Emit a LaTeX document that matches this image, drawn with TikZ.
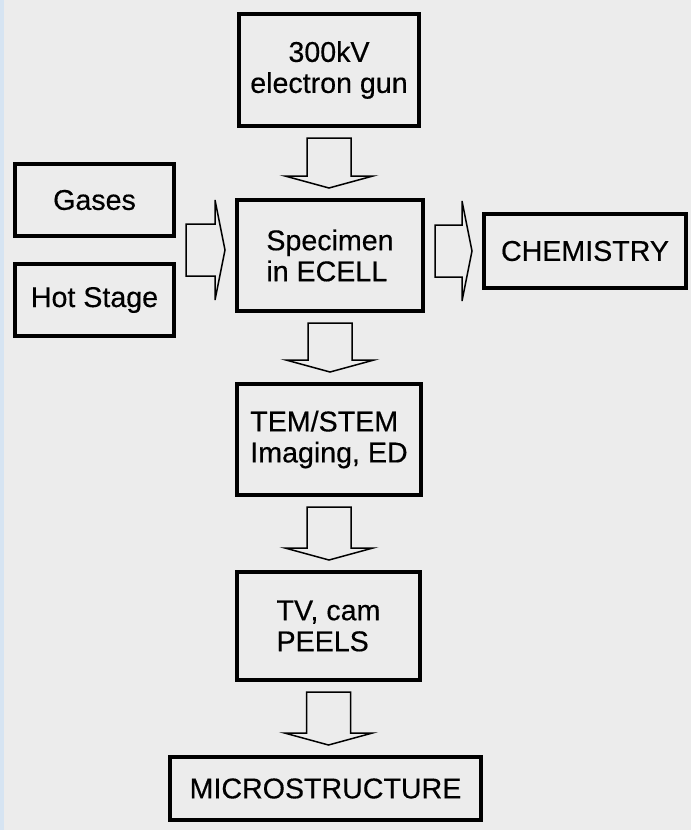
\documentclass[tikz,border=0pt]{standalone}
\usepackage{fontspec}
\setmainfont{Liberation Sans}
\newfontfamily\scanfont{Liberation Sans}[UprightFeatures={FakeBold=0.4}]
\usetikzlibrary{calc}

\definecolor{paper}{RGB}{236,236,236}
\definecolor{edge}{RGB}{214,228,242}

\tikzset{
  box/.style={draw, line width=2pt, inner sep=0pt, font=\scanfont\fontsize{14.3}{15.5}\selectfont},
  blockarrow/.style={draw, line width=0.75pt, line join=miter},
}

% hollow block arrows: #1 = tail, #2 = tip
\newcommand{\blockdown}[2]{%
  \draw[blockarrow] ($(#1)+(-22,0)$) -- ($(#2 -| #1)+(-22,-12)$) -- ($(#2 -| #1)+(-44,-12)$)
    -- (#2 -| #1) -- ($(#2 -| #1)+(44,-12)$) -- ($(#2 -| #1)+(22,-12)$) -- ($(#1)+(22,0)$) -- cycle;}
\newcommand{\blockright}[2]{%
  \draw[blockarrow] ($(#1)+(0,-26)$) -- ($(#2 |- #1)+(-10,-26)$) -- ($(#2 |- #1)+(-10,-50)$)
    -- (#2 |- #1) -- ($(#2 |- #1)+(-10,50)$) -- ($(#2 |- #1)+(-10,26)$) -- ($(#1)+(0,26)$) -- cycle;}

\begin{document}
\begin{tikzpicture}[x=0.5pt, y=-0.5pt]
  \fill[paper] (0,0) rectangle (691,830);
  \fill[edge] (0,0) rectangle (4,830);

  \node[box, minimum width=90pt, minimum height=56pt, align=center] (gun) at (329,70) {300kV\\electron gun};
  \node[box, minimum width=93pt, minimum height=55.5pt, align=left] (spec) at (330,255.5) {Specimen\\in ECELL};
  \node[box, minimum width=79.5pt, minimum height=36pt] (gases) at (94.5,200) {Gases};
  \node[box, minimum width=79.5pt, minimum height=36pt] (hot) at (94.5,300) {Hot Stage};
  \node[box, minimum width=101pt, minimum height=37pt] (chem) at (585,251) {CHEMISTRY};
  \node[box, minimum width=92pt, minimum height=55.5pt, align=left] (tem) at (329,439.5) {TEM/STEM\\Imaging, ED};
  \node[box, minimum width=91.5pt, minimum height=54pt, align=left] (tv) at (328.5,626) {TV, cam\\PEELS};
  \node[box, minimum width=155.5pt, minimum height=31.5pt] (micro) at (325.5,788.5) {MICROSTRUCTURE};

  % arrows
  \path ($(gun.south)+(0,10)$) coordinate (d1a) ($(spec.north)+(0,-10)$) coordinate (d1b);
  \path ($(spec.south)+(0,10)$) coordinate (d2a) ($(tem.north)+(0,-10)$) coordinate (d2b);
  \path ($(tem.south)+(0,10)$) coordinate (d3a) ($(tv.north)+(0,-10)$) coordinate (d3b);
  \path ($(tv.south)+(0,10)$) coordinate (d4a) ($(micro.north)+(0,-10)$) coordinate (d4b);
  \blockdown{d1a}{d1b}
  \blockdown{d2a}{d2b}
  \blockdown{d3a}{d3b}
  \blockdown{d4a}{d4b}

  \path ($($(gases.east)!0.5!(hot.east)$)+(10,0)$) coordinate (r1a) ($(spec.west)+(-10,0)$) coordinate (r1b);
  \path ($(spec.east |- chem.west)+(10,0)$) coordinate (r2a) ($(chem.west)+(-10,0)$) coordinate (r2b);
  \blockright{r1a}{r1b}
  \blockright{r2a}{r2b}
\end{tikzpicture}
\end{document}
